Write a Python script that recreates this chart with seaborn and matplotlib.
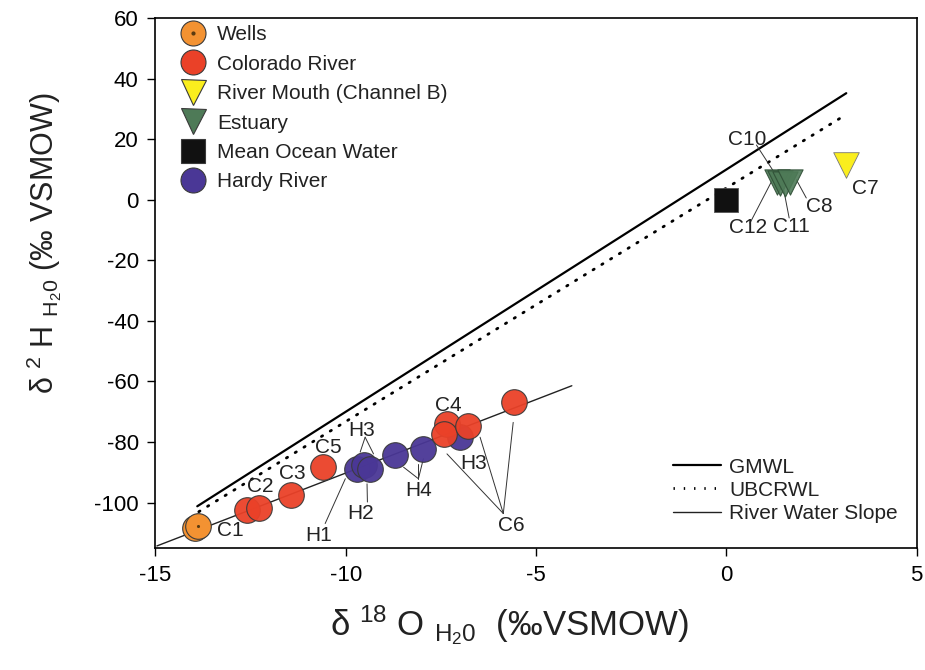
import matplotlib
matplotlib.use("Agg")
import pandas as pd
import matplotlib.pyplot as plt
import seaborn as sns
from matplotlib.lines import Line2D

sns.set_theme(style="ticks")
plt.rcParams["font.family"] = ["Liberation Sans", "DejaVu Sans"]
plt.rcParams["mathtext.fontset"] = "custom"
plt.rcParams["mathtext.rm"] = "Liberation Sans"
plt.rcParams["mathtext.it"] = "Liberation Sans:italic"
plt.rcParams["mathtext.bf"] = "Liberation Sans:bold"
plt.rcParams["axes.unicode_minus"] = False

# sample groups (d18O, d2H)
wells_x = [-13.95, -13.89]
wells_y = [-108.3, -107.6]
colorado_x = [-12.59, -12.29, -11.44, -10.60, -7.34, -7.43, -6.78, -5.58]
colorado_y = [-102.5, -101.8, -97.6, -88.3, -74.0, -77.3, -74.8, -66.9]
hardy_x = [-9.71, -9.53, -9.36, -8.70, -7.96, -6.99]
hardy_y = [-88.8, -87.7, -88.8, -84.4, -82.2, -78.4]
mouth_x = [3.15]
mouth_y = [11.5]
estuary_x = [1.33, 1.42, 1.55, 1.67]
estuary_y = [5.8, 5.4, 5.2, 5.8]
ocean_x = [0.0]
ocean_y = [0.0]

# reference lines
gmwl_x = [-13.9, 3.15]
gmwl_y = [-101.2, 35.2]
ubc_x = [-13.86, 3.05]
ubc_y = [-103.0, 27.4]
river_x = [-14.96, -4.06]
river_y = [-114.3, -61.4]

# sample labels: text, text position, leader lines (start, end)
labels = [
    ("C1", -13.03, -109.1, []),
    ("C2", -12.24, -94.8, []),
    ("C3", -11.41, -90.5, []),
    ("C5", -10.45, -81.7, []),
    ("C4", -7.30, -68.0, []),
    ("H3", -9.57, -76.2, [((-9.49, -78.4), (-9.62, -83.3)), ((-9.49, -78.4), (-9.27, -83.9))]),
    ("H1", -10.71, -110.8, [((-10.54, -106.9), (-10.01, -92.1))]),
    ("H2", -9.62, -103.6, [((-9.43, -99.8), (-9.44, -93.8))]),
    ("H4", -8.09, -96.0, [((-8.09, -92.1), (-8.48, -88.3)), ((-8.09, -92.1), (-8.09, -87.2)),
                          ((-8.09, -92.1), (-7.96, -85.5))]),
    ("H3", -6.65, -87.2, []),
    ("C6", -5.64, -107.5, [((-5.86, -103.6), (-7.34, -83.9)), ((-5.86, -103.6), (-6.47, -78.4)),
                           ((-5.86, -103.6), (-5.60, -73.5))]),
    ("C10", 0.55, 20.0, [((0.79, 18.1), (1.27, 8.8))]),
    ("C12", 0.57, -9.3, [((0.62, -7.7), (1.23, 7.1))]),
    ("C11", 1.71, -8.8, [((1.65, -6.0), (1.49, 4.4))]),
    ("C8", 2.45, -2.2, [((2.10, 0.6), (1.84, 6.6))]),
    ("C7", 3.64, 3.8, []),
]

col_wells = "#F39232"
col_colorado = "#EA4128"
col_mouth = "#FAEE1E"
col_estuary = "#4E7A57"
col_ocean = "#111111"
col_hardy = "#4A3796"
edge = "#3a3a3a"
dots = (0, (0.5, 3.2))

fig = plt.figure(figsize=(9.25, 6.7), dpi=100)
ax = fig.add_axes([0.168, 0.182, 0.823, 0.791])

sns.lineplot(x=gmwl_x, y=gmwl_y, ax=ax, color="black", lw=1.6, estimator=None)
sns.lineplot(x=ubc_x, y=ubc_y, ax=ax, color="black", lw=2.0, linestyle=dots,
             estimator=None, dash_capstyle="round")
sns.lineplot(x=river_x, y=river_y, ax=ax, color="#222222", lw=1.0, estimator=None)

s_circ = 340
sns.scatterplot(x=hardy_x, y=hardy_y, ax=ax, s=s_circ, color=col_hardy, edgecolor=edge,
                linewidth=0.8, alpha=0.95, zorder=3)
sns.scatterplot(x=colorado_x, y=colorado_y, ax=ax, s=s_circ, color=col_colorado, edgecolor=edge,
                linewidth=0.8, alpha=0.95, zorder=4)
sns.scatterplot(x=wells_x, y=wells_y, ax=ax, s=s_circ, color=col_wells, edgecolor=edge,
                linewidth=0.8, zorder=4)
sns.scatterplot(x=wells_x[-1:], y=wells_y[-1:], ax=ax, s=5, color="#5a3a10", linewidth=0, zorder=5)
sns.scatterplot(x=ocean_x, y=ocean_y, ax=ax, s=300, marker="s", color=col_ocean, edgecolor="#555",
                linewidth=0.6, zorder=4)
sns.scatterplot(x=estuary_x, y=estuary_y, ax=ax, s=330, marker="v", color=col_estuary, edgecolor="#2f4f36",
                linewidth=0.8, alpha=0.9, zorder=4)
sns.scatterplot(x=mouth_x, y=mouth_y, ax=ax, s=340, marker="v", color=col_mouth, edgecolor="#777",
                linewidth=0.6, zorder=4)

for text, tx, ty, leaders in labels:
    ax.text(tx, ty, text, fontsize=15, ha="center", va="center", color="#222", zorder=6)
    for (x0, y0), (x1, y1) in leaders:
        ax.plot([x0, x1], [y0, y1], color="#333", lw=0.7, zorder=2)

ax.set_xlim(-15, 5)
ax.set_ylim(-115, 60)
ax.set_xticks([-15, -10, -5, 0, 5])
ax.set_yticks(range(-100, 61, 20))
ax.tick_params(direction="out", length=6, width=1, labelsize=16, colors="black", pad=6)
for sp in ax.spines.values():
    sp.set_visible(True)
    sp.set_color("black")
    sp.set_linewidth(1.2)

ax.set_xlabel(r"δ $^{18}$ O $_{\mathrm{H_20}}$  (‰VSMOW)", fontsize=25, color="#222")
ax.set_ylabel(r"δ $^{2}$ H $_{\mathrm{H_20}}$ (‰ VSMOW)", fontsize=22, color="#222")
ax.xaxis.set_label_coords(0.465, -0.105)
ax.yaxis.set_label_coords(-0.12, 0.575)

# sample legend
mk = dict(linestyle="none", markeredgecolor=edge, markeredgewidth=0.8)
h_wells = (Line2D([], [], marker="o", markersize=18, markerfacecolor=col_wells, **mk),
           Line2D([], [], marker="o", markersize=2, color="#5a3a10", linestyle="none"))
handles1 = [
    h_wells,
    Line2D([], [], marker="o", markersize=18, markerfacecolor=col_colorado, **mk),
    Line2D([], [], marker="v", markersize=18, markerfacecolor=col_mouth, **mk),
    Line2D([], [], marker="v", markersize=18, markerfacecolor=col_estuary, **mk),
    Line2D([], [], marker="s", markersize=17, markerfacecolor=col_ocean, **mk),
    Line2D([], [], marker="o", markersize=18, markerfacecolor=col_hardy, **mk),
]
names1 = ["Wells", "Colorado River", "River Mouth (Channel B)", "Estuary", "Mean Ocean Water", "Hardy River"]
leg1 = ax.legend(handles1, names1, loc="upper left", bbox_to_anchor=(0.015, 1.01), frameon=False,
                 fontsize=15, labelspacing=0.5, handletextpad=0.5, borderaxespad=0.2,
                 handlelength=1.3, labelcolor="#222")
ax.add_artist(leg1)

handles2 = [
    Line2D([], [], color="black", lw=1.6),
    Line2D([], [], color="black", lw=2.0, linestyle=dots),
    Line2D([], [], color="#222222", lw=1.0),
]
names2 = ["GMWL", "UBCRWL", "River Water Slope"]
ax.legend(handles2, names2, loc="lower right", bbox_to_anchor=(1.0, 0.012), frameon=False,
          fontsize=15, labelspacing=0.2, handlelength=2.3, handletextpad=0.4, labelcolor="#222")

fig.savefig("out.png", dpi=100)
